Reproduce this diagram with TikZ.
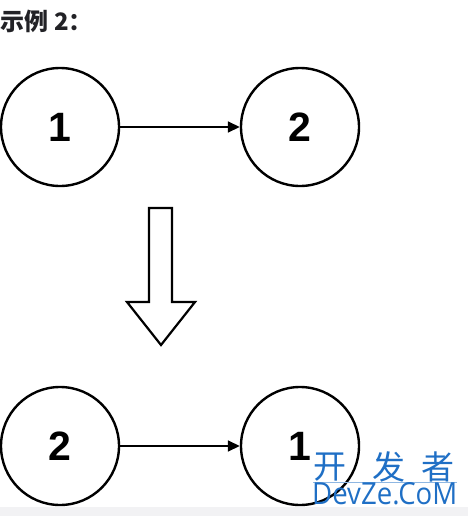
\documentclass[tikz,border=0pt]{standalone}
\usepackage{fontspec}
\setmainfont{Liberation Sans}
\newfontfamily\cjk{Noto Sans CJK SC}
\newfontfamily\wmfont{Open Sans}
\usetikzlibrary{arrows.meta,shapes.arrows}
\definecolor{titlegray}{HTML}{222226}
\definecolor{wmblue}{HTML}{1F6FC5}
\definecolor{stripgray}{HTML}{F2F2F4}
\tikzset{
  listnode/.style={circle,draw=black,line width=2.4pt,minimum size=118pt,inner sep=0pt,
    font=\fontsize{41}{41}\selectfont\bfseries},
  link/.style={line width=1.6pt,-{Triangle[length=12pt,width=11pt]}},
  wmchar/.style={text=wmblue,font=\cjk\fontsize{33}{33}\selectfont,inner sep=0pt},
}
\begin{document}
\begin{tikzpicture}[x=1pt,y=-1pt]
\useasboundingbox (0,0) rectangle (468,516);
\fill[stripgray] (0,507) rectangle (468,516);
\node[anchor=west,text=titlegray,font=\cjk\fontsize{24}{24}\selectfont\bfseries,inner sep=0pt] (title) at (0.5,21) {示例 2：};
% top row
\node[listnode] (a1) at (60,127) {1};
\node[listnode] (a2) at (300,127) {2};
\draw[link] (a1) -- (a2);
% big down arrow
\draw[line width=2.2pt,line join=miter,fill=white] (149,208) -- (172,208) -- (172,302) -- (195,302) -- (161,345) -- (127,302) -- (149,302) -- cycle;
% bottom row
\node[listnode] (b2) at (60,446) {2};
\node[listnode] (b1) at (300,446) {1};
\draw[link] (b2) -- (b1);
% watermark
\node[wmchar] (wk) at (330,467) {开};
\node[wmchar] (wf) at (389,467) {发};
\node[wmchar] (wz) at (438,467) {者};
\draw[wmblue!50,line width=0.8pt] (313,482) -- (457,482);
\node[anchor=west,text=wmblue,inner sep=0pt] (wm2) at (312,494) {\resizebox{145pt}{22pt}{\wmfont DevZe.CoM}};
\end{tikzpicture}
\end{document}
